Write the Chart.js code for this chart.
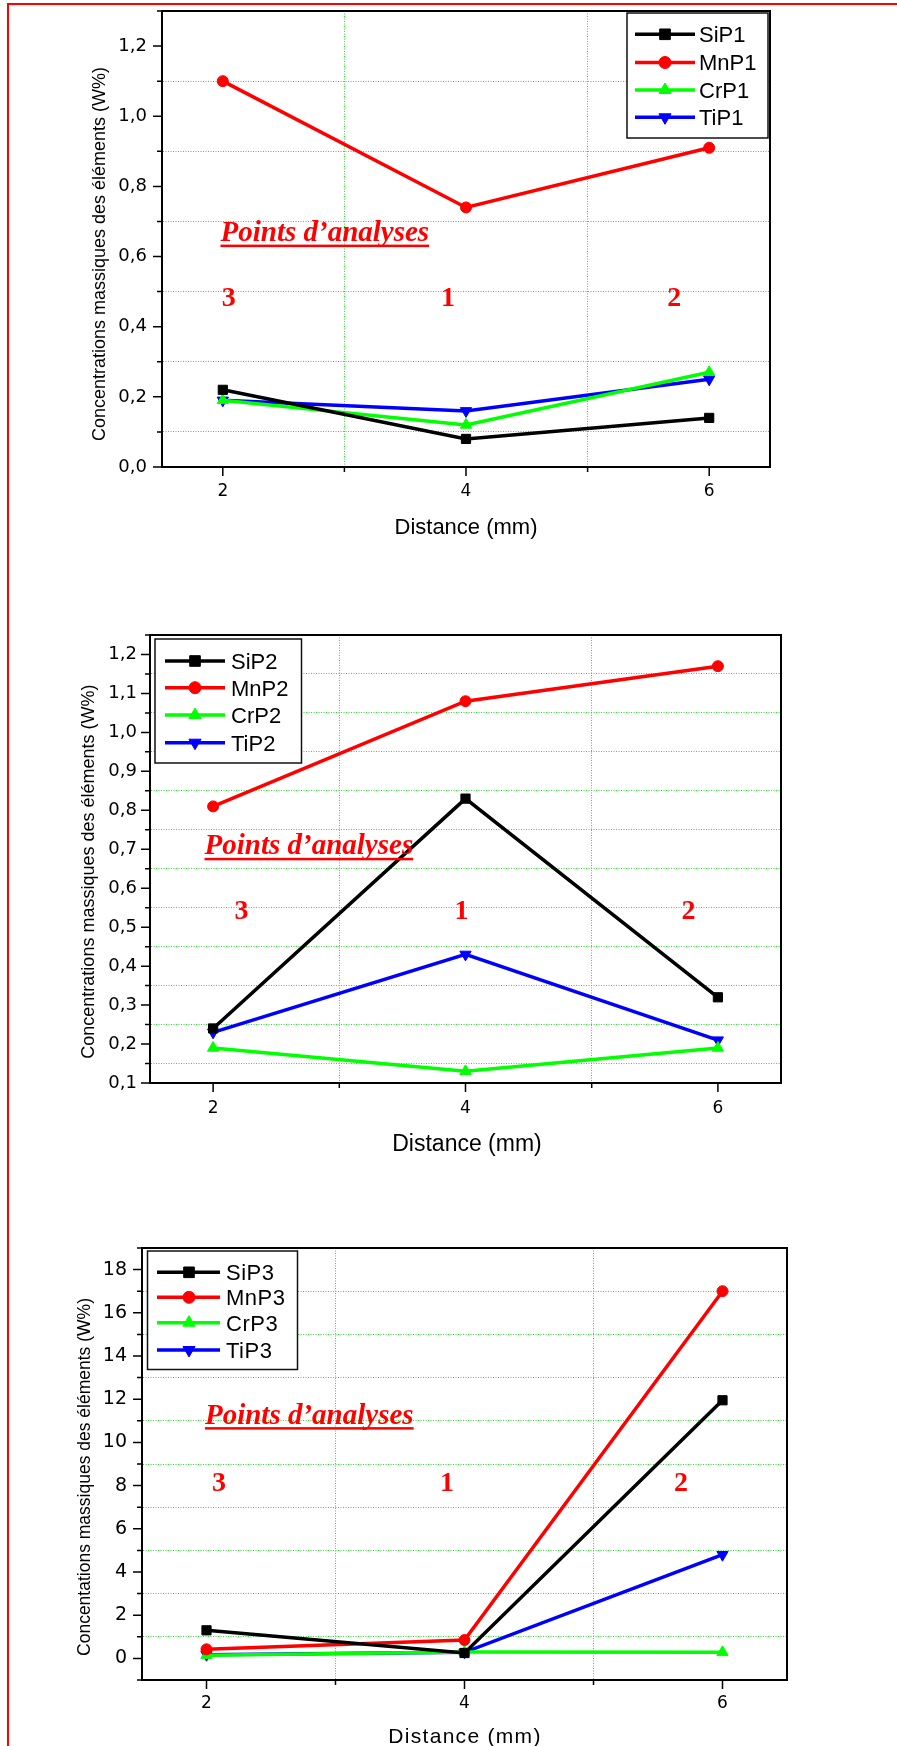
<!DOCTYPE html>
<html>
<head>
<meta charset="utf-8">
<script src="https://cdn.jsdelivr.net/npm/chart.js"></script>
<style>
    html, body { margin: 0; padding: 0; background: #fff; }
    body { width: 897px; height: 1746px; position: relative; overflow: hidden; }
    #frame { position: absolute; left: 7px; top: 3px; width: 900px; height: 1760px;
             border-top: 2px solid #ff0000; border-left: 2px solid #ff0000; }
    canvas { position: absolute; left: 0; }
</style>
</head>
<body>
<div id="frame"></div>
<canvas id="chart-p1" width="897" height="600" style="top:-40px"></canvas>
<canvas id="chart-p2" width="897" height="600" style="top:560px"></canvas>
<canvas id="chart-p3" width="897" height="586" style="top:1160px"></canvas>
<script>
const distances = [2, 4, 6];
const xMajor = [2, 4, 6];

// P1
const siP1 = [0.22, 0.08, 0.14];
const mnP1 = [1.10, 0.74, 0.91];
const crP1 = [0.19, 0.12, 0.27];
const tiP1 = [0.19, 0.16, 0.25];

// P2
const siP2 = [0.24, 0.83, 0.32];
const mnP2 = [0.81, 1.08, 1.17];
const crP2 = [0.19, 0.13, 0.19];
const tiP2 = [0.23, 0.43, 0.21];

// P3
const siP3 = [1.3, 0.25, 11.95];
const mnP3 = [0.42, 0.85, 17.0];
const crP3 = [0.15, 0.3, 0.28];
const tiP3 = [0.17, 0.28, 4.8];

const yMajor1 = [0, 0.2, 0.4, 0.6, 0.8, 1.0, 1.2];
const yMajor2 = [0.1, 0.2, 0.3, 0.4, 0.5, 0.6, 0.7, 0.8, 0.9, 1.0, 1.1, 1.2];
const yMajor3 = [0, 2, 4, 6, 8, 10, 12, 14, 16, 18];

const pointLabels = ['3', '1', '2'];
const noteTitle = 'Points d\u2019analyses';

const seriesColors = ['#000000', '#ff0000', '#00ff00', '#0000ff'];
const markerStyles = ['rect', 'circle', 'triangle', 'triangle'];
const markerRotation = [0, 0, 0, 180];
const markerRadius = [6.5, 5.5, 6.5, 6.5];
const legendRadius = [7.5, 6, 7, 7];

const SANS = '"Liberation Sans", Arial, Helvetica, sans-serif';
const TICKS = '"DejaVu Sans", Verdana, sans-serif';
const SERIF = '"Liberation Serif", "Times New Roman", serif';
const gridGreen = 'rgb(40, 225, 40)';

Chart.defaults.font.family = SANS;
Chart.defaults.color = '#000';

function onList(list, v) {
    return list.some(t => Math.abs(t - v) < 1e-6);
}

function commaLabel(v) {
    return v.toFixed(1).replace('.', ',');
}

function stepValues(min, max, step) {
    const out = [];
    const n = Math.round((max - min) / step);
    for (let i = 0; i <= n; i++) out.push(Math.round((min + i * step) * 1000) / 1000);
    return out;
}

// page coordinates are turned into canvas coordinates with o.off
const deco = {
    id: 'deco',
    beforeDatasetsDraw(chart, args, o) {
        const { ctx, chartArea: a } = chart;
        const x = chart.scales.x, y = chart.scales.y;
        ctx.save();
        ctx.strokeStyle = '#000';
        ctx.lineWidth = 2;
        ctx.beginPath();
        ctx.moveTo(a.left, a.top);
        ctx.lineTo(a.right, a.top);
        ctx.lineTo(a.right, a.bottom);
        ctx.stroke();

        ctx.lineWidth = 1.5;
        ctx.beginPath();
        x.ticks.forEach(t => {
            const p = x.getPixelForValue(t.value);
            const len = onList(xMajor, t.value) ? 9 : 5;
            ctx.moveTo(p, a.bottom);
            ctx.lineTo(p, a.bottom + len);
        });
        y.ticks.forEach(t => {
            const p = y.getPixelForValue(t.value);
            const len = onList(o.yMajor, t.value) ? 9 : 5;
            ctx.moveTo(a.left, p);
            ctx.lineTo(a.left - len, p);
        });
        ctx.stroke();
        ctx.restore();
    },
    afterDatasetsDraw(chart, args, o) {
        const ctx = chart.ctx;
        const x = chart.scales.x, y = chart.scales.y;
        const off = o.off;

        // "Points d'analyses" and the point numbers
        ctx.save();
        ctx.fillStyle = '#ff0000';
        ctx.font = 'italic bold 29px ' + SERIF;
        ctx.textAlign = 'left';
        ctx.textBaseline = 'alphabetic';
        const nx = x.getPixelForValue(o.note[0]);
        const ny = y.getPixelForValue(o.note[1]);
        ctx.fillText(noteTitle, nx, ny);
        const w = ctx.measureText(noteTitle).width;
        ctx.fillRect(nx, ny + 3.5, w, 2.5);
        ctx.font = 'bold 28px ' + SERIF;
        ctx.textAlign = 'center';
        pointLabels.forEach((lab, i) => {
            ctx.fillText(lab, x.getPixelForValue(o.numX[i]), y.getPixelForValue(o.numY));
        });
        ctx.restore();

        // legend box
        const L = o.legend;
        ctx.save();
        ctx.fillStyle = '#fff';
        ctx.fillRect(L.x0, L.y0 - off, L.x1 - L.x0, L.y1 - L.y0);
        ctx.strokeStyle = '#111';
        ctx.lineWidth = 1.5;
        ctx.strokeRect(L.x0, L.y0 - off, L.x1 - L.x0, L.y1 - L.y0);
        chart.data.datasets.forEach((ds, i) => {
            const ry = L.rows[i] - off;
            ctx.strokeStyle = ds.borderColor;
            ctx.lineWidth = 3.5;
            ctx.beginPath();
            ctx.moveTo(L.lx0, ry);
            ctx.lineTo(L.lx1, ry);
            ctx.stroke();
            ctx.fillStyle = ds.borderColor;
            ctx.lineWidth = 1;
            Chart.helpers.drawPoint(ctx, {
                pointStyle: ds.pointStyle, rotation: ds.pointRotation,
                radius: legendRadius[i], borderWidth: 1
            }, L.mx, ry);
            ctx.fillStyle = '#000';
            ctx.font = '22px ' + SANS;
            ctx.letterSpacing = L.spacing || '0px';
            ctx.textAlign = 'left';
            ctx.textBaseline = 'alphabetic';
            ctx.fillText(ds.label, L.tx, ry + 0.358 * 22);
        });
        ctx.restore();
    },
    afterDraw(chart, args, o) {
        const ctx = chart.ctx;
        const off = o.off;
        ctx.save();
        ctx.fillStyle = '#000';
        ctx.font = o.yTitle.size + 'px ' + SANS;
        ctx.textAlign = 'center';
        ctx.textBaseline = 'alphabetic';
        ctx.translate(o.yTitle.x, o.yTitle.y - off);
        ctx.rotate(-Math.PI / 2);
        ctx.fillText(o.yTitle.text, 0, 0);
        ctx.restore();

        ctx.save();
        ctx.fillStyle = '#000';
        ctx.font = o.xTitle.size + 'px ' + SANS;
        ctx.letterSpacing = o.xTitle.spacing || '0px';
        ctx.textAlign = 'center';
        ctx.textBaseline = 'alphabetic';
        ctx.fillText('Distance (mm)', o.xTitle.x, o.xTitle.y - off);
        ctx.restore();
    }
};

function buildChart(id, s) {
    const canvas = document.getElementById(id);
    const datasets = s.series.map((vals, i) => ({
        label: s.names[i],
        data: distances.map((d, k) => ({ x: d, y: vals[k] })),
        borderColor: seriesColors[i],
        backgroundColor: seriesColors[i],
        borderWidth: 3.5,
        pointStyle: markerStyles[i],
        pointRotation: markerRotation[i],
        pointRadius: markerRadius[i],
        pointBorderWidth: 1,
        tension: 0
    }));

    const a = s.area;   // page coordinates
    const xAxisH = 60;
    const yTicksAll = stepValues(s.yMin, s.yMax, s.yStep);

    return new Chart(canvas, {
        type: 'line',
        data: { datasets: datasets },
        options: {
            responsive: false,
            animation: false,
            devicePixelRatio: 1,
            layout: {
                padding: { left: 0, top: a.t - s.off, right: 897 - a.r,
                           bottom: s.height - (a.b - s.off) - xAxisH }
            },
            scales: {
                x: {
                    type: 'linear', min: 1.5, max: 6.5,
                    afterBuildTicks: sc => { sc.ticks = [2, 3, 4, 5, 6].map(v => ({ value: v })); },
                    afterFit: sc => { sc.height = xAxisH; },
                    ticks: {
                        autoSkip: false, maxRotation: 0, padding: s.xPad,
                        font: { family: TICKS, size: s.xTickSize },
                        callback: v => onList(xMajor, v) ? String(v) : ''
                    },
                    grid: {
                        drawTicks: false, lineWidth: 1,
                        color: c => (c.tick && !onList(xMajor, c.tick.value)) ? gridGreen : 'rgba(0,0,0,0)'
                    },
                    border: { color: '#000', width: 2, dash: [1, 1.5] }
                },
                y: {
                    type: 'linear', min: s.yMin, max: s.yMax,
                    afterBuildTicks: sc => { sc.ticks = yTicksAll.map(v => ({ value: v })); },
                    afterFit: sc => { sc.width = a.l; },
                    ticks: {
                        autoSkip: false, padding: s.yPad,
                        font: { family: TICKS, size: s.yTickSize },
                        callback: v => onList(s.yMajor, v) ? s.fmt(v) : ''
                    },
                    grid: {
                        drawTicks: false, lineWidth: 1,
                        color: c => (c.tick && !onList(s.yMajor, c.tick.value)) ? gridGreen : 'rgba(0,0,0,0)'
                    },
                    border: { color: '#000', width: 2, dash: [1, 1.5] }
                }
            },
            plugins: {
                legend: { display: false },
                tooltip: { enabled: false },
                deco: s
            }
        },
        plugins: [deco]
    });
}

buildChart('chart-p1', {
    off: -40, height: 600,
    area: { l: 162, r: 770, t: 11, b: 467 },
    series: [siP1, mnP1, crP1, tiP1],
    names: ['SiP1', 'MnP1', 'CrP1', 'TiP1'],
    yMin: 0, yMax: 1.3, yStep: 0.1, yMajor: yMajor1, fmt: commaLabel,
    xPad: 14, yPad: 15, xTickSize: 17, yTickSize: 18,
    note: [1.981, 0.644], numX: [2.049, 3.852, 5.713], numY: 0.458,
    legend: { x0: 627, y0: 13, x1: 768, y1: 138, lx0: 635, lx1: 695, mx: 665, tx: 699,
              rows: [34.3, 62.5, 90, 117.3] },
    yTitle: { text: 'Concentrations massiques des éléments (W%)', x: 105, y: 254, size: 18 },
    xTitle: { x: 466, y: 534, size: 22 }
});

buildChart('chart-p2', {
    off: 560, height: 600,
    area: { l: 150, r: 781, t: 635, b: 1083 },
    series: [siP2, mnP2, crP2, tiP2],
    names: ['SiP2', 'MnP2', 'CrP2', 'TiP2'],
    yMin: 0.1, yMax: 1.25, yStep: 0.05, yMajor: yMajor2, fmt: commaLabel,
    xPad: 15, yPad: 13, xTickSize: 17, yTickSize: 18,
    note: [1.932, 0.687], numX: [2.225, 3.968, 5.767], numY: 0.520,
    legend: { x0: 155, y0: 639, x1: 301.5, y1: 763, lx0: 165, lx1: 225, mx: 195, tx: 231,
              rows: [661, 687.7, 715, 742.7] },
    yTitle: { text: 'Concentrations massiques des éléments (W%)', x: 93.5, y: 871.6, size: 18 },
    xTitle: { x: 467, y: 1150.5, size: 23 }
});

buildChart('chart-p3', {
    off: 1160, height: 586,
    area: { l: 142, r: 787, t: 1248, b: 1680 },
    series: [siP3, mnP3, crP3, tiP3],
    names: ['SiP3', 'MnP3', 'CrP3', 'TiP3'],
    yMin: -1, yMax: 19, yStep: 1, yMajor: yMajor3, fmt: v => String(v),
    xPad: 13, yPad: 15, xTickSize: 17, yTickSize: 19,
    note: [1.988, 10.87], numX: [2.097, 3.864, 5.678], numY: 7.76,
    legend: { x0: 147.5, y0: 1251, x1: 297.5, y1: 1369.5, lx0: 157, lx1: 220, mx: 189, tx: 226,
              rows: [1272.3, 1297.3, 1322.7, 1350], spacing: '0.5px' },
    yTitle: { text: 'Concentations massiques des éléments (W%)', x: 89.5, y: 1477, size: 17.5 },
    xTitle: { x: 465, y: 1743, size: 21, spacing: '1.3px' }
});
</script>
</body>
</html>
